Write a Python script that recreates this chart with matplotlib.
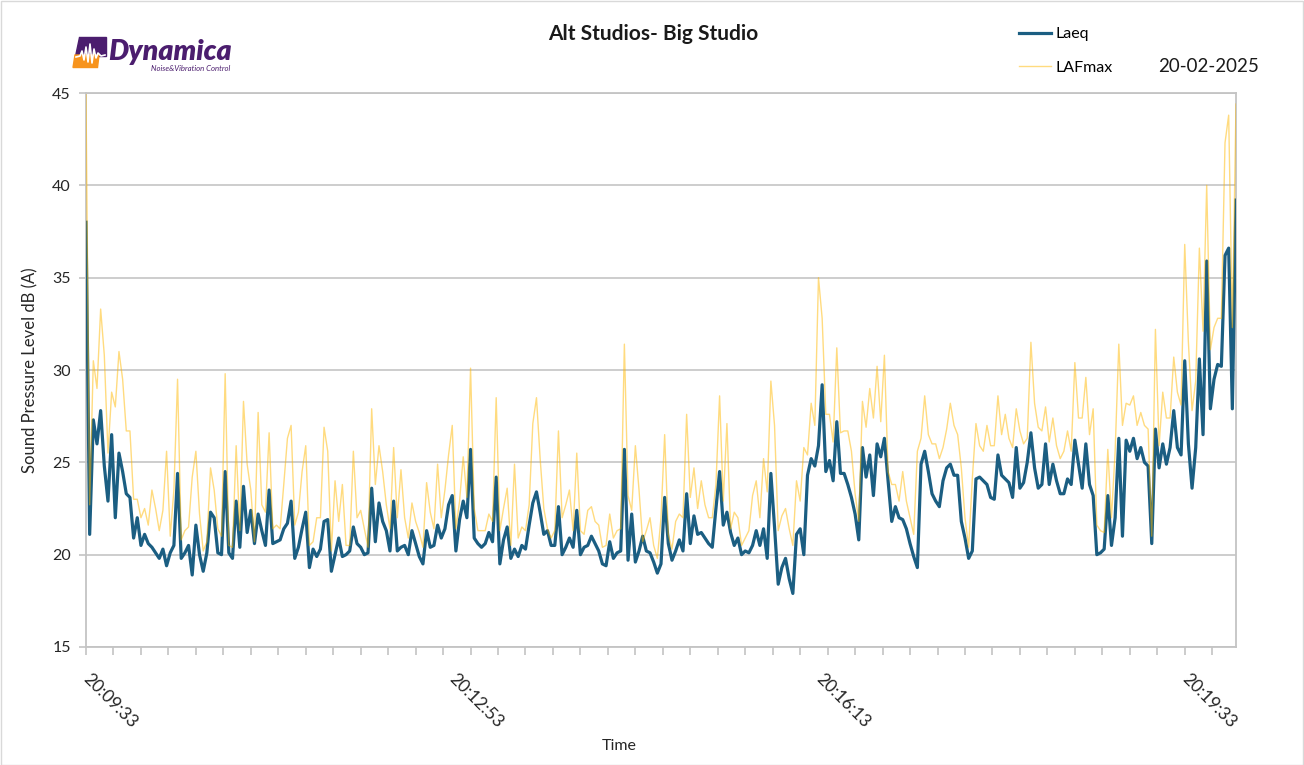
import numpy as np
import matplotlib
matplotlib.use("Agg")
import matplotlib.pyplot as plt
from matplotlib.patches import Polygon, Rectangle

plt.rcParams['font.family'] = ['Lato', 'DejaVu Sans']

# Logged levels, one reading every 2 seconds starting at 20:09:33
SAMPLE_INTERVAL_S = 2

laeq = [
    38.0, 21.1, 27.3, 26.0, 27.8, 24.8, 22.9, 26.5, 22.0, 25.5,
    24.5, 23.3, 23.1, 20.9, 22.0, 20.5, 21.1, 20.6, 20.4, 20.1,
    19.8, 20.3, 19.4, 20.1, 20.5, 24.4, 19.8, 20.1, 20.5, 18.9,
    21.6, 20.0, 19.1, 20.1, 22.3, 22.0, 20.1, 20.0, 24.5, 20.1,
    19.8, 22.9, 20.4, 23.7, 21.2, 22.4, 20.6, 22.2, 21.3, 20.5,
    23.5, 20.6, 20.7, 20.8, 21.4, 21.7, 22.9, 19.8, 20.4, 21.4,
    22.3, 19.3, 20.3, 19.9, 20.3, 21.8, 21.9, 19.1, 20.0, 20.9,
    19.9, 20.0, 20.2, 21.5, 20.6, 20.4, 20.0, 20.1, 23.6,
    20.7, 22.8, 21.8, 21.3, 20.2, 22.9, 20.2, 20.4, 20.5, 20.0,
    21.3, 20.6, 19.9, 19.5, 21.3, 20.4, 20.5, 21.6, 20.9, 21.4,
    22.7, 23.2, 20.2, 21.9, 22.9, 22.0, 25.7, 20.9, 20.6, 20.4,
    20.6, 21.2, 20.7, 24.2, 19.5, 20.8, 21.5, 19.8, 20.3, 19.9,
    20.5, 20.3, 21.6, 22.8, 23.4, 22.3, 21.1, 21.3, 20.5, 20.5,
    22.6, 20.0, 20.4, 20.9, 20.4, 22.4, 20.0, 20.4, 20.5, 21.0,
    20.6, 20.2, 19.5, 19.4, 20.7, 19.8, 20.1, 20.2, 25.7, 19.7,
    22.2, 19.6, 20.2, 21.0, 20.2, 20.1, 19.6, 19.0, 19.5, 23.1,
    20.6, 19.7, 20.2, 20.8, 20.2, 23.3, 20.6, 22.1, 21.1, 21.2,
    20.9, 20.6, 20.4, 22.5, 24.5, 21.6, 22.3, 21.2, 20.5, 20.9,
    20.0, 20.2, 20.1, 20.5, 21.3, 20.5, 21.4, 19.8, 24.4, 21.5,
    18.4, 19.3, 19.8, 18.7, 17.9, 21.1, 21.4, 20.0, 24.3,
    25.2, 24.8, 25.9, 29.2, 24.5, 25.1, 24.0, 27.2, 24.4, 24.4,
    23.8, 23.1, 22.2, 20.8, 25.8, 24.2, 25.4, 23.2, 26.0, 25.3,
    26.3, 24.0, 21.8, 22.6, 22.0, 21.9, 21.4, 20.6, 19.9, 19.3,
    24.9, 25.6, 24.5, 23.3, 22.9, 22.6, 24.0, 24.7, 24.9, 24.3,
    24.3, 21.8, 20.9, 19.8, 20.2, 24.1, 24.2, 24.0, 23.8, 23.1,
    23.0, 25.4, 24.3, 24.1, 23.9, 23.1, 25.8, 23.6, 23.9, 25.0,
    26.6, 24.7, 23.6, 23.8, 26.0, 23.8, 24.9, 24.0, 23.3, 23.3,
    24.1, 23.8, 26.2, 24.9, 23.6, 26.0, 23.8, 23.2, 20.0,
    20.1, 20.3, 23.2, 20.5, 22.0, 26.3, 21.0, 26.2, 25.6, 26.3,
    25.2, 25.8, 25.0, 24.8, 20.6, 26.8, 24.7, 26.0, 24.9, 25.8,
    27.8, 25.8, 25.4, 30.5, 26.0, 23.6, 25.8, 30.6, 26.5, 35.9,
    27.9, 29.5, 30.3, 30.2, 36.2, 36.6, 27.9, 39.2,
]

lafmax = [
    44.9, 22.7, 30.5, 29.0, 33.3, 30.8, 25.5, 28.8, 28.0, 31.0,
    29.5, 26.7, 26.7, 23.0, 23.0, 22.0, 22.5, 21.6, 23.5, 22.5,
    21.3, 22.4, 25.6, 21.0, 23.5, 29.5, 20.8, 21.3, 21.5, 24.2,
    25.6, 22.2, 20.2, 20.7, 24.7, 23.5, 21.4, 21.0, 29.8, 20.5,
    20.4, 25.9, 21.3, 28.3, 24.9, 23.5, 20.7, 27.7, 22.7, 22.3,
    26.6, 21.4, 21.6, 21.4, 23.8, 26.3, 27.0, 21.6, 22.3, 24.5,
    25.9, 20.5, 20.7, 22.0, 22.0, 26.9, 25.6, 20.2, 24.0, 21.8,
    23.8, 20.5, 20.5, 25.6, 22.0, 22.4, 21.4, 20.4, 27.9,
    23.8, 25.9, 24.5, 22.7, 21.4, 25.8, 22.0, 24.6, 22.0, 20.9,
    22.8, 21.8, 21.2, 20.4, 23.9, 22.3, 21.4, 24.9, 22.0, 23.5,
    25.4, 27.0, 21.4, 22.9, 25.3, 23.1, 30.1, 22.5, 21.3, 21.3,
    21.3, 22.2, 21.8, 28.5, 21.3, 22.5, 23.6, 20.5, 24.9, 20.9,
    21.5, 21.3, 22.7, 27.1, 28.5, 25.2, 22.5, 21.4, 20.9, 21.3,
    26.7, 22.0, 22.7, 23.5, 21.3, 25.5, 21.3, 21.1, 22.4, 22.6,
    21.8, 21.6, 20.4, 20.5, 22.2, 20.9, 21.3, 21.4, 31.4, 23.2,
    22.4, 25.9, 23.5, 20.7, 21.3, 22.0, 20.5, 19.8, 22.0, 26.5,
    21.1, 20.3, 21.8, 22.2, 22.0, 27.6, 23.1, 24.7, 22.5, 24.0,
    22.7, 22.0, 22.0, 23.8, 28.6, 22.9, 27.1, 21.4, 22.3, 22.0,
    20.5, 20.9, 21.3, 23.2, 24.0, 22.0, 25.2, 23.4, 29.4, 27.0,
    21.3, 22.1, 22.5, 21.4, 20.5, 24.0, 22.9, 25.8, 25.4,
    28.2, 27.0, 35.0, 32.8, 27.6, 27.6, 26.1, 31.2, 26.6, 26.7,
    26.7, 25.6, 23.3, 21.8, 28.3, 26.9, 29.0, 27.4, 30.2, 27.2,
    30.8, 24.5, 23.8, 23.8, 22.9, 24.5, 22.9, 22.0, 21.1, 25.6,
    26.3, 28.6, 26.5, 26.0, 26.0, 25.2, 25.8, 26.8, 28.2, 27.0,
    26.5, 24.7, 22.0, 20.4, 24.1, 27.1, 25.9, 25.6, 27.0, 25.9,
    25.9, 28.6, 26.5, 27.6, 26.3, 25.8, 27.9, 26.7, 26.0, 26.3,
    31.5, 28.2, 26.9, 26.7, 28.0, 26.1, 27.4, 25.9, 25.2, 25.6,
    26.7, 25.6, 30.4, 27.4, 27.4, 29.6, 26.5, 27.9, 21.6,
    21.3, 21.2, 25.7, 22.0, 25.6, 31.4, 27.0, 28.2, 28.1, 28.6,
    27.0, 27.7, 27.0, 26.8, 21.0, 32.2, 25.9, 28.8, 27.4, 27.4,
    30.7, 28.8, 28.1, 36.8, 31.5, 27.8, 29.4, 36.6, 32.1, 40.0,
    31.1, 32.3, 32.8, 32.8, 42.3, 43.8, 32.3, 44.4,
]

time_label_seconds = [0, 200, 400, 600]
time_labels = ["20:09:33", "20:12:53", "20:16:13", "20:19:33"]
y_ticks = [15, 20, 25, 30, 35, 40, 45]

chart_title = "Alt Studios- Big Studio"
date_text = "20-02-2025"

W, H = 1304, 765
fig = plt.figure(figsize=(W / 100, H / 100), dpi=100)
fig.patch.set_facecolor("white")

ax = fig.add_axes([86 / W, 1 - 647 / H, 1150 / W, 554 / H])

t = np.arange(len(laeq)) * SAMPLE_INTERVAL_S
line_eq, = ax.plot(t, laeq, color="#1B5E82", lw=2.3, label="Laeq", zorder=3,
                   solid_joinstyle="round")
line_max, = ax.plot(t, lafmax, color="#FFB800", alpha=0.5, lw=1.0,
                    label="LAFmax", zorder=4)

ax.set_xlim(0, t[-1])
ax.set_ylim(15, 45)
ax.set_yticks(y_ticks)
ax.yaxis.grid(True, color="#c9c9c9", lw=1.3)
ax.set_axisbelow(True)

grey = "#c4c4c4"
for side in ("left", "right", "bottom", "top"):
    ax.spines[side].set_color(grey)
    ax.spines[side].set_linewidth(1.3)

# tick marks every 15 s, time labels every 200 s
ax.xaxis.remove_overlapping_locs = False
ax.set_xticks(np.arange(0, t[-1] + 1, 15))
ax.set_xticklabels([])
ax.tick_params(axis="x", which="major", length=6, color=grey, width=1.2)
ax.set_xticks(time_label_seconds, minor=True)
ax.set_xticklabels(time_labels, minor=True, rotation=-45, ha="left",
                   va="center", rotation_mode="anchor", fontsize=12.5,
                   color="#262626")
ax.tick_params(axis="x", which="minor", length=0, pad=21)
ax.tick_params(axis="y", length=5, color=grey, width=1.2, pad=6,
               labelsize=11.5, labelcolor="#262626")

ax.set_ylabel("Sound Pressure Level dB (A)", fontsize=12, color="#262626",
              labelpad=10)
fig.text(619 / W, 1 - 746 / H, "Time", ha="center", va="center",
         fontsize=11.5, color="#262626")
fig.text(653 / W, 1 - 34 / H, chart_title, ha="center", va="center",
         fontsize=15, fontweight="bold", color="#1a1a1a")
fig.text(1209 / W, 1 - 67 / H, date_text, ha="center", va="center",
         fontsize=13.5, color="#1a1a1a")

fig.legend(handles=[line_eq, line_max], loc="upper left",
           bbox_to_anchor=(1019 / W, 1 - 27 / H), frameon=False,
           fontsize=11.5, handlelength=2.0, handletextpad=0.3,
           labelspacing=1.2, borderaxespad=0, borderpad=0)

# company logo
lg = fig.add_axes([60 / W, 1 - 80 / H, 190 / W, 55 / H])
lg.set_xlim(60, 250)
lg.set_ylim(80, 25)
lg.axis("off")
purple = "#4B1D6E"
lg.add_patch(Polygon([(79, 37), (106, 37), (106, 55.5), (75, 55.5)],
                     closed=True, color=purple))
lg.add_patch(Polygon([(75, 55), (99, 55), (97.5, 67.5), (73, 67.5)],
                     closed=True, color="#F7941D"))
lg.plot([76, 80, 82, 84, 86, 88, 90, 92, 94, 96, 98, 101, 105],
        [57, 56, 51, 60, 47, 62, 44, 63, 49, 58, 53, 56, 55],
        color="white", lw=1.2)
lg.text(108, 60, "Dynamica", fontsize=20.5, fontweight="heavy",
        style="italic", color=purple, ha="left", va="baseline")
lg.text(151, 71, "Noise&Vibration Control", fontsize=5.6, style="italic",
        color=purple, ha="left", va="baseline")

fig.patches.append(Rectangle((0.5 / W, 0.5 / H), 1 - 1.5 / W, 1 - 1.5 / H,
                             transform=fig.transFigure, fill=False,
                             edgecolor="#d9d9d9", lw=1))

fig.savefig("out.png", dpi=100)
